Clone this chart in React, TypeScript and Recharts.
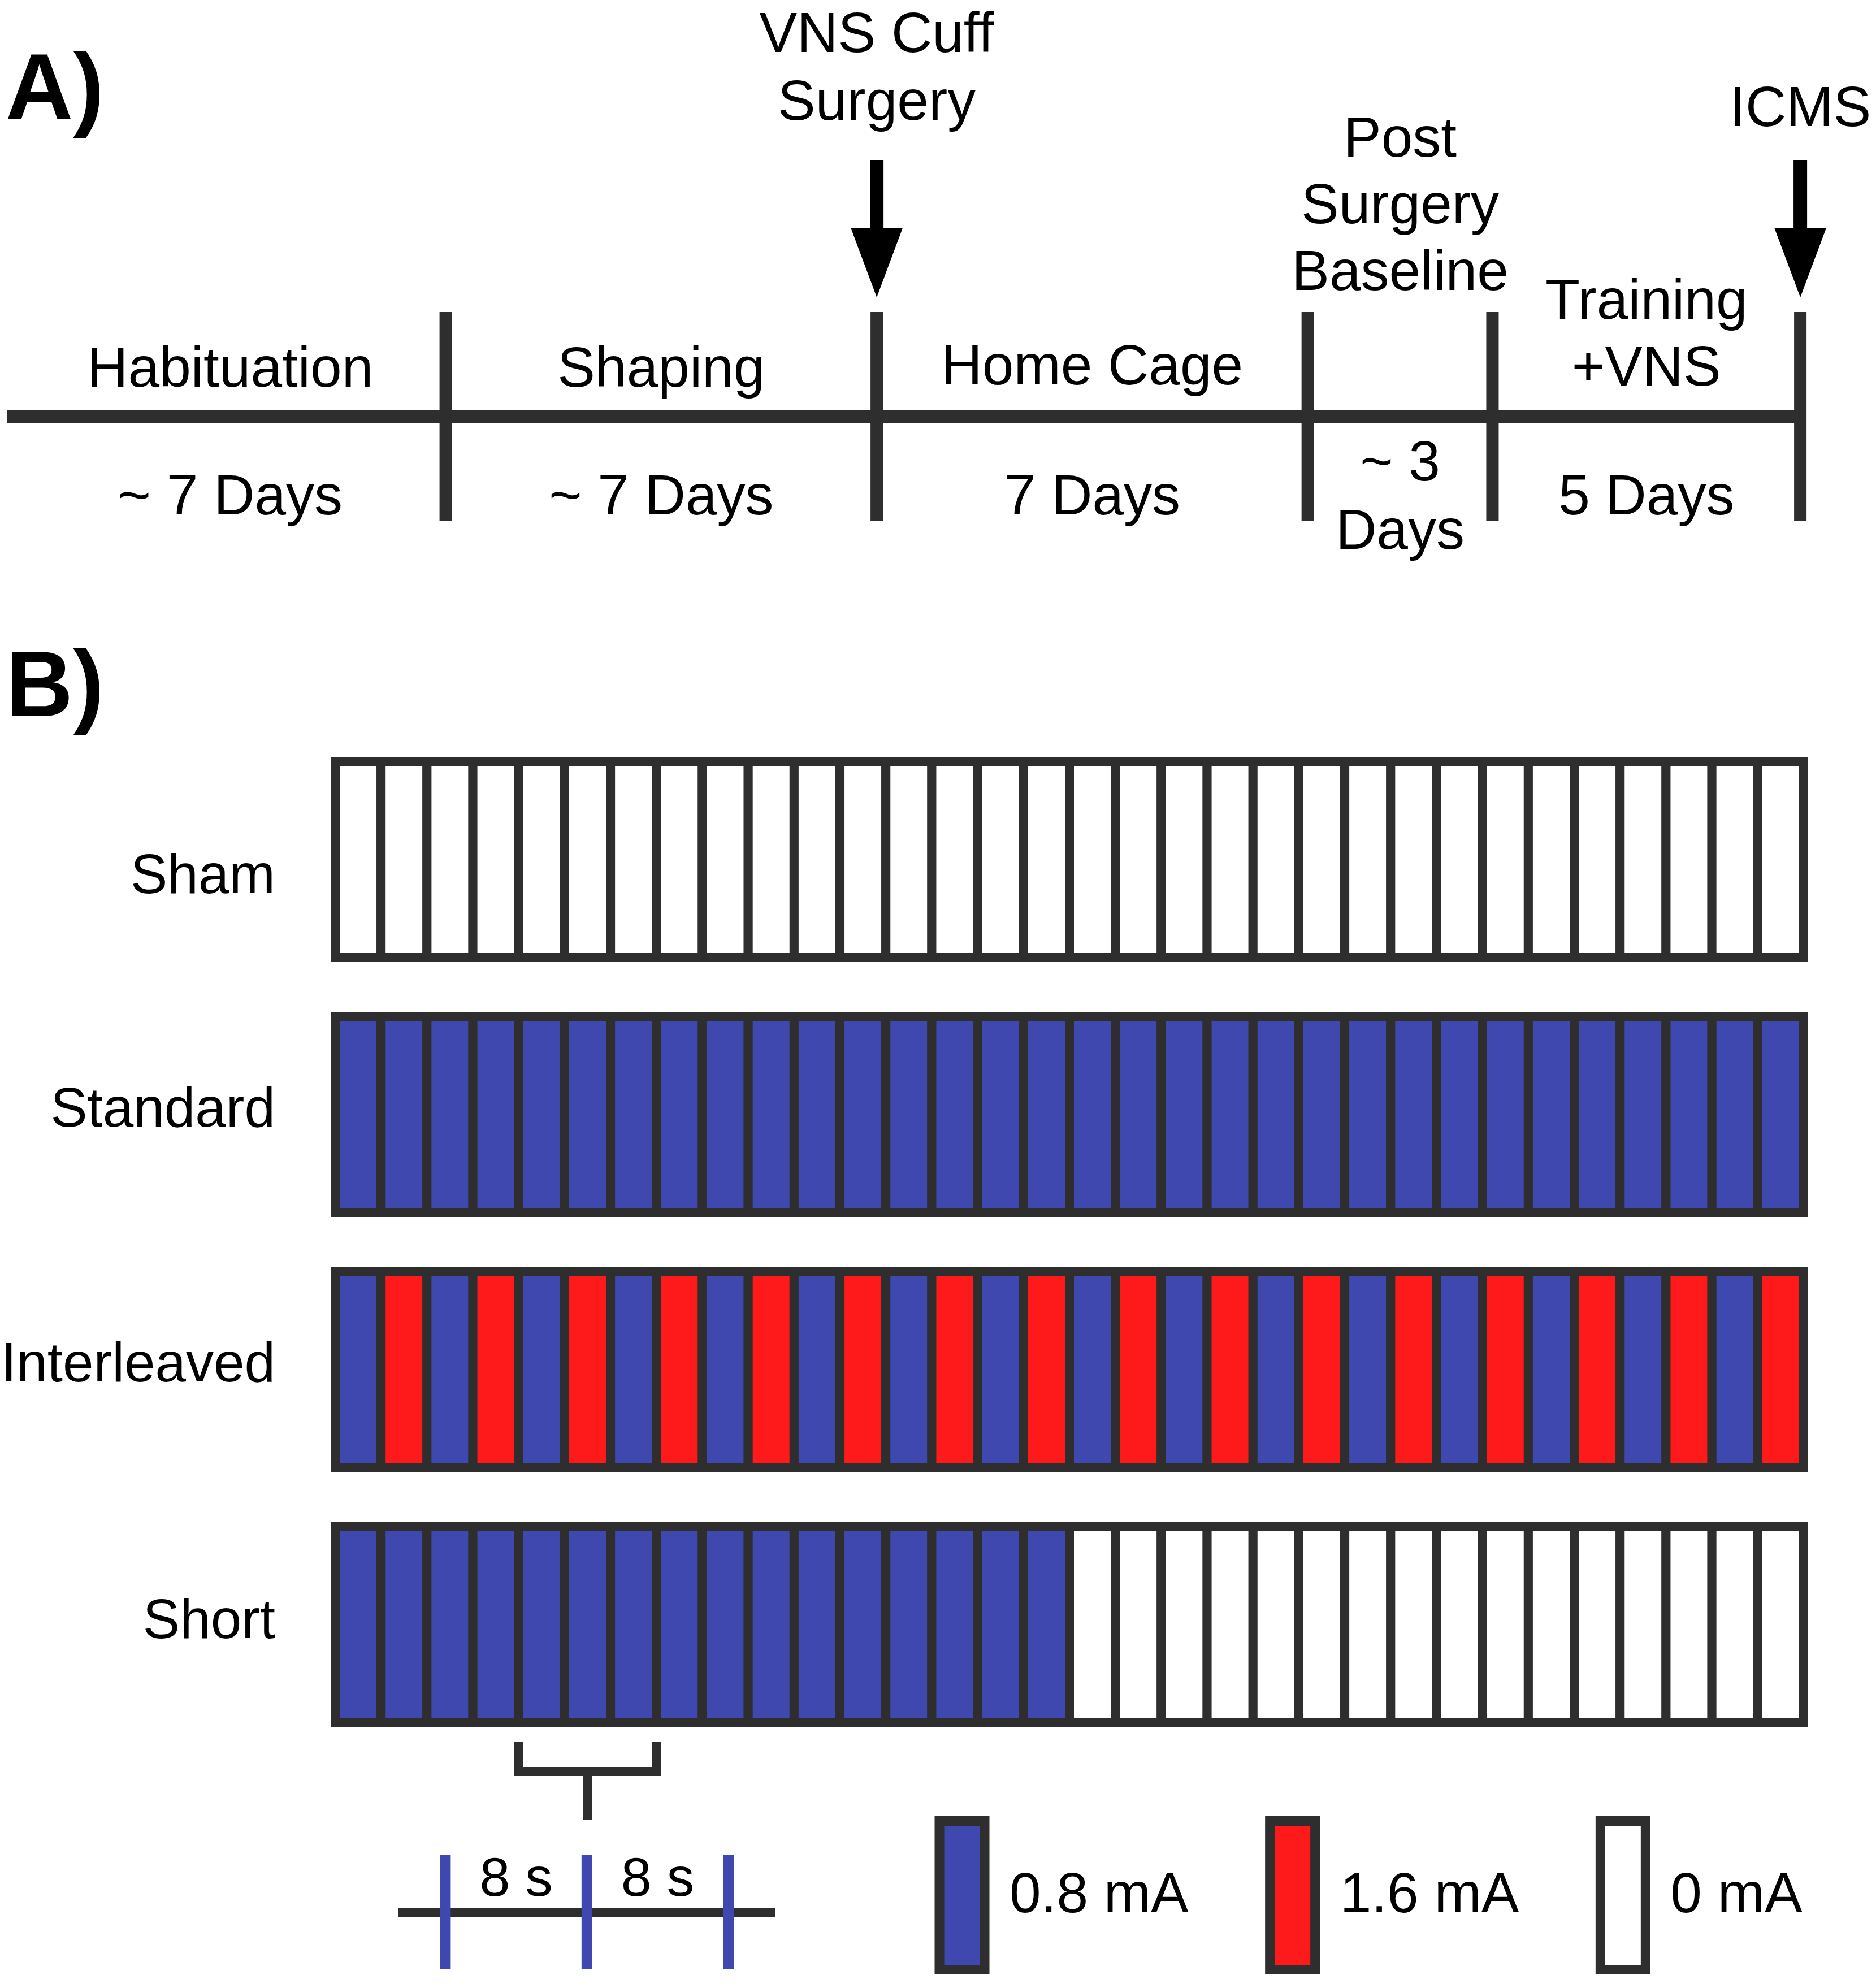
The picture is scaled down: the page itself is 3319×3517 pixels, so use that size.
import React from "react";
import {
  ComposedChart,
  BarChart,
  Bar,
  Line,
  Scatter,
  XAxis,
  YAxis,
  ReferenceLine,
  Cell,
  LabelList,
} from "recharts";

const W = 3319;
const H = 3517;
const FONT = "'Liberation Sans', Arial, Helvetica, sans-serif";
const INK = "#2e2e2e";
const BLUE = "#3f48ae";
const RED = "#fe1a1a";

// ---- panel A: experimental timeline (days) ----
const phaseNames = [["Habituation"], ["Shaping"], ["Home Cage"], ["Post", "Surgery", "Baseline"], ["Training", "+VNS"]];
const phaseDays = [7, 7, 7, 3, 5];
const phaseDurations = [["~ 7 Days"], ["~ 7 Days"], ["7 Days"], ["~ 3", "Days"], ["5 Days"]];
const eventNames = [["VNS Cuff", "Surgery"], ["ICMS"]];
const eventDays = [14, 29];

// ---- panel B: stimulation schedule per group (mA per 8 s slot) ----
const groups = ["Sham", "Standard", "Interleaved", "Short"];
const sham = [0, 0, 0, 0, 0, 0, 0, 0, 0, 0, 0, 0, 0, 0, 0, 0, 0, 0, 0, 0, 0, 0, 0, 0, 0, 0, 0, 0, 0, 0, 0, 0];
const standard = [0.8, 0.8, 0.8, 0.8, 0.8, 0.8, 0.8, 0.8, 0.8, 0.8, 0.8, 0.8, 0.8, 0.8, 0.8, 0.8, 0.8, 0.8, 0.8, 0.8, 0.8, 0.8, 0.8, 0.8, 0.8, 0.8, 0.8, 0.8, 0.8, 0.8, 0.8, 0.8];
const interleaved = [0.8, 1.6, 0.8, 1.6, 0.8, 1.6, 0.8, 1.6, 0.8, 1.6, 0.8, 1.6, 0.8, 1.6, 0.8, 1.6, 0.8, 1.6, 0.8, 1.6, 0.8, 1.6, 0.8, 1.6, 0.8, 1.6, 0.8, 1.6, 0.8, 1.6, 0.8, 1.6];
const short = [0.8, 0.8, 0.8, 0.8, 0.8, 0.8, 0.8, 0.8, 0.8, 0.8, 0.8, 0.8, 0.8, 0.8, 0.8, 0.8, 0, 0, 0, 0, 0, 0, 0, 0, 0, 0, 0, 0, 0, 0, 0, 0];
const patterns = [sham, standard, interleaved, short];

const legendLabels = ["0.8 mA", "1.6 mA", "0 mA"];
const legendLevels = [0.8, 1.6, 0];

const scaleTicks = [0, 8, 16]; // seconds
const scaleLabels = ["8 s", "8 s"];
const scaleLabelAt = [4, 12];
const bracketCells = [4, 7];

// layout (page pixels)
const A = {
  domain: [-0.12, 29.1],
  lineY: 737,
  tickTop: 552,
  tickBottom: 921,
  phaseBase: [684, 684, 680, 513, 682],
  durBase: 910,
  arrowTip: 526,
  eventRise: [314, 303],
};
const rowLabelDy = [59, 21, 21, 24];

const levelColor = (v: number) => (v === 1.6 ? RED : v === 0.8 ? BLUE : "#ffffff");

let acc = 0;
const boundaries = phaseDays.map((d) => (acc += d));
const timelineLine = [
  { day: A.domain[0], y: A.lineY },
  { day: A.domain[1], y: A.lineY },
];
const phaseLabelData = phaseNames.map((lines, i) => ({
  day: boundaries[i] - phaseDays[i] / 2,
  y: A.phaseBase[i],
  lines,
}));
const durationData = phaseDurations.map((lines, i) => ({
  day: boundaries[i] - phaseDays[i] / 2,
  y: A.durBase,
  lines,
}));
const eventData = eventDays.map((d, i) => ({ day: d, y: A.arrowTip, lines: eventNames[i], rise: A.eventRise[i] }));

const gridRows = groups.map((g, r) => {
  const row: any = { group: g };
  patterns[r].forEach((_, i) => (row[`c${i}`] = 1));
  return row;
});

const legendData = legendLabels.map((label, i) => ({ label, level: legendLevels[i], v: 1 }));

const txt = { fontFamily: FONT, fill: "#000" };

const PhaseLabel = (p: any) => {
  const lines: string[] = p.payload.lines;
  const n = lines.length;
  return (
    <g>
      {lines.map((t, i) => (
        <text key={i} x={p.cx} y={p.cy - (n - 1 - i) * 118} textAnchor="middle" fontSize={100} {...txt}>
          {t}
        </text>
      ))}
    </g>
  );
};

const DurationLabel = (p: any) => {
  const lines: string[] = p.payload.lines;
  const n = lines.length;
  return (
    <g>
      {lines.map((t, i) => (
        <text key={i} x={p.cx} y={p.cy + (i - (n - 1) / 2) * 121} textAnchor="middle" fontSize={100} {...txt}>
          {t}
        </text>
      ))}
    </g>
  );
};

const EventMarker = (p: any) => {
  const { cx, cy } = p;
  const lines: string[] = p.payload.lines;
  const n = lines.length;
  const base = cy - p.payload.rise;
  const pts = [
    [cx - 12, cy - 243],
    [cx + 12, cy - 243],
    [cx + 12, cy - 123],
    [cx + 46, cy - 123],
    [cx, cy],
    [cx - 46, cy - 123],
    [cx - 12, cy - 123],
  ]
    .map((q) => q.join(","))
    .join(" ");
  return (
    <g>
      <polygon points={pts} fill="#000" />
      {lines.map((t, i) => (
        <text key={i} x={cx} y={base - (n - 1 - i) * 120} textAnchor="middle" fontSize={100} {...txt}>
          {t}
        </text>
      ))}
    </g>
  );
};

const ScaleLabel = (p: any) => (
  <text x={p.cx} y={p.cy} textAnchor="middle" fontSize={97} {...txt}>
    {p.payload.text}
  </text>
);

const RowTick = (p: any) => (
  <text x={p.x} y={p.y + rowLabelDy[p.index]} textAnchor="end" fontSize={98} {...txt}>
    {p.payload.value}
  </text>
);

const layer = (top: number, height: number): React.CSSProperties => ({
  position: "absolute",
  left: 0,
  top,
  width: W,
  height,
});

function Timeline() {
  return (
    <ComposedChart width={W} height={H} margin={{ top: 0, right: 123, bottom: 0, left: 13 }}>
      <XAxis type="number" dataKey="day" domain={A.domain} hide />
      <YAxis type="number" dataKey="y" domain={[0, H]} reversed hide />
      <Line
        data={timelineLine}
        dataKey="y"
        stroke={INK}
        strokeWidth={23}
        dot={false}
        activeDot={false}
        isAnimationActive={false}
      />
      {boundaries.map((d) => (
        <ReferenceLine
          key={d}
          segment={[
            { x: d, y: A.tickTop },
            { x: d, y: A.tickBottom },
          ]}
          stroke={INK}
          strokeWidth={22}
        />
      ))}
      <Scatter data={phaseLabelData} dataKey="y" shape={PhaseLabel} isAnimationActive={false} />
      <Scatter data={durationData} dataKey="y" shape={DurationLabel} isAnimationActive={false} />
      <Scatter data={eventData} dataKey="y" shape={EventMarker} isAnimationActive={false} />
    </ComposedChart>
  );
}

function Schedule() {
  return (
    <BarChart
      width={W}
      height={1804}
      layout="vertical"
      data={gridRows}
      barSize={346}
      margin={{ top: 0, right: 128, bottom: 0, left: 0 }}
    >
      <XAxis type="number" domain={[0, 32]} hide />
      <YAxis
        type="category"
        dataKey="group"
        width={593}
        axisLine={false}
        tickLine={false}
        tickSize={0}
        tickMargin={106}
        interval={0}
        tick={RowTick}
      />
      {patterns[0].map((_, i) => (
        <Bar key={i} dataKey={`c${i}`} stackId="slots" stroke={INK} strokeWidth={16} isAnimationActive={false}>
          {patterns.map((row, r) => (
            <Cell key={r} fill={levelColor(row[i])} />
          ))}
        </Bar>
      ))}
    </BarChart>
  );
}

function Bracket() {
  const [a, b] = bracketCells;
  const shape = [
    { cell: a, y: 3082 },
    { cell: a, y: 3134 },
    { cell: b, y: 3134 },
    { cell: b, y: 3082 },
  ];
  return (
    <ComposedChart width={W} height={H} margin={{ top: 0, right: 128, bottom: 0, left: 593 }}>
      <XAxis type="number" dataKey="cell" domain={[0, 32]} hide />
      <YAxis type="number" dataKey="y" domain={[0, H]} reversed hide />
      <Line
        data={shape}
        dataKey="y"
        stroke={INK}
        strokeWidth={16}
        strokeLinejoin="miter"
        dot={false}
        activeDot={false}
        isAnimationActive={false}
      />
      <ReferenceLine
        segment={[
          { x: (a + b) / 2, y: 3134 },
          { x: (a + b) / 2, y: 3219 },
        ]}
        stroke={INK}
        strokeWidth={16}
      />
    </ComposedChart>
  );
}

function TimeScale() {
  const ext = [-2.68, 18.66];
  const base = [
    { s: ext[0], y: 3383 },
    { s: ext[1], y: 3383 },
  ];
  const labels = scaleLabels.map((text, i) => ({ s: scaleLabelAt[i], y: 3354, text }));
  return (
    <ComposedChart width={W} height={H} margin={{ top: 0, right: W - 1372, bottom: 0, left: 704 }}>
      <XAxis type="number" dataKey="s" domain={ext} hide />
      <YAxis type="number" dataKey="y" domain={[0, H]} reversed hide />
      <Line data={base} dataKey="y" stroke={INK} strokeWidth={16} dot={false} activeDot={false} isAnimationActive={false} />
      {scaleTicks.map((t) => (
        <ReferenceLine
          key={t}
          segment={[
            { x: t, y: 3281 },
            { x: t, y: 3484 },
          ]}
          stroke={BLUE}
          strokeWidth={19}
        />
      ))}
      <Scatter data={labels} dataKey="y" shape={ScaleLabel} isAnimationActive={false} />
    </ComposedChart>
  );
}

function LevelLegend() {
  return (
    <BarChart
      width={W}
      height={300}
      data={legendData}
      barSize={80}
      margin={{ top: 21.5, right: W - 3164, bottom: 15.5, left: 1410 }}
    >
      <XAxis type="category" dataKey="label" hide />
      <YAxis type="number" domain={[0, 1]} hide />
      <Bar dataKey="v" stroke={INK} strokeWidth={17} isAnimationActive={false}>
        {legendData.map((d, i) => (
          <Cell key={i} fill={levelColor(d.level)} />
        ))}
        <LabelList
          dataKey="label"
          content={(p: any) => (
            <text x={p.x + p.width + 44} y={p.y + p.height / 2 + 30} fontSize={100} {...txt}>
              {p.value}
            </text>
          )}
        />
      </Bar>
    </BarChart>
  );
}

export default function App() {
  return (
    <div style={{ position: "absolute", left: 0, top: 0, width: W, height: H, background: "#fff", overflow: "hidden" }}>
      <div style={layer(0, H)}>
        <Timeline />
      </div>
      <div style={layer(1294.5, 1804)}>
        <Schedule />
      </div>
      <div style={layer(0, H)}>
        <Bracket />
      </div>
      <div style={layer(0, H)}>
        <TimeScale />
      </div>
      <div style={layer(3200, 300)}>
        <LevelLegend />
      </div>
      <svg width={W} height={H} style={{ position: "absolute", left: 0, top: 0, pointerEvents: "none" }}>
        <text x={10} y={210} fontSize={165} fontWeight="bold" {...txt}>
          A)
        </text>
        <text x={10} y={1267} fontSize={165} fontWeight="bold" {...txt}>
          B)
        </text>
      </svg>
    </div>
  );
}
